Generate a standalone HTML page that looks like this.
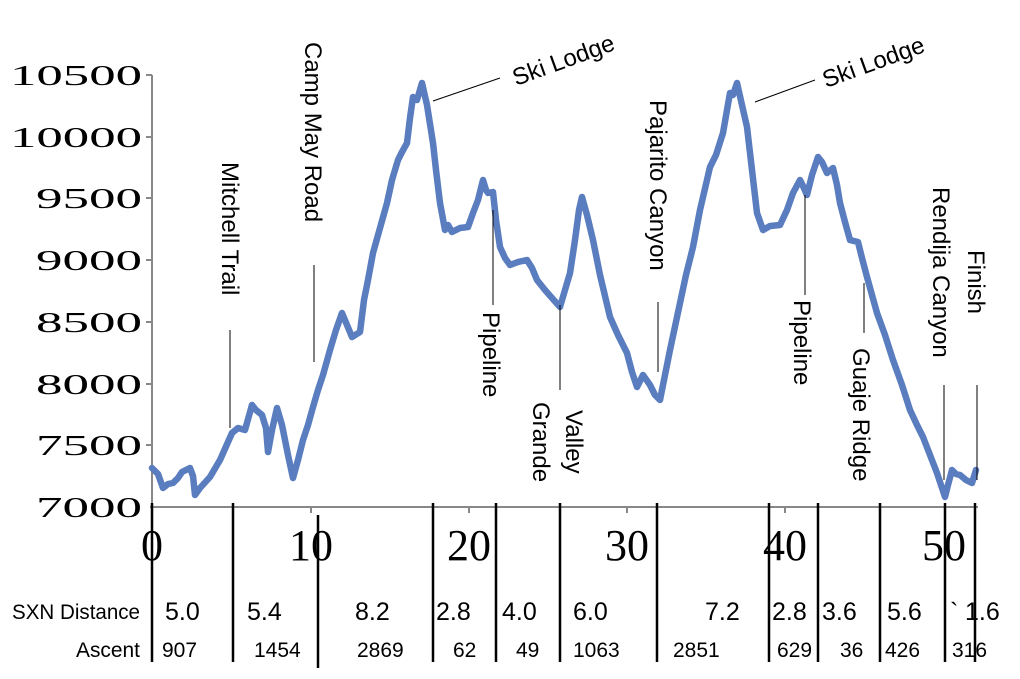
<!DOCTYPE html>
<html><head><meta charset="utf-8"><style>
html,body{margin:0;padding:0;background:#fff;}
svg{display:block;}
text{font-family:"Liberation Sans",sans-serif;fill:#000;}
.yl text{font-family:"Liberation Serif",serif;font-size:29px;}
.xl text{font-family:"Liberation Serif",serif;font-size:44px;}
.an{font-size:24px;}
.bt{font-size:21px;}
</style></head><body>
<svg width="1020" height="679" viewBox="0 0 1020 679">
<rect width="1020" height="679" fill="#fff"/>
<line x1="152" y1="75" x2="152" y2="507" stroke="#888" stroke-width="2"/>
<line x1="150" y1="507" x2="978" y2="507" stroke="#888" stroke-width="2"/>
<g stroke="#888" stroke-width="2">
<line x1="146" y1="75" x2="152" y2="75"/><line x1="146" y1="137" x2="152" y2="137"/><line x1="146" y1="198" x2="152" y2="198"/><line x1="146" y1="260" x2="152" y2="260"/><line x1="146" y1="322" x2="152" y2="322"/><line x1="146" y1="384" x2="152" y2="384"/><line x1="146" y1="445" x2="152" y2="445"/>
<line x1="311" y1="507" x2="311" y2="513"/><line x1="469" y1="507" x2="469" y2="513"/><line x1="627" y1="507" x2="627" y2="513"/><line x1="785" y1="507" x2="785" y2="513"/>
</g>
<g class="yl" text-anchor="end">
<text x="142" y="85" textLength="132" lengthAdjust="spacingAndGlyphs">10500</text>
<text x="142" y="147" textLength="132" lengthAdjust="spacingAndGlyphs">10000</text>
<text x="142" y="208" textLength="106" lengthAdjust="spacingAndGlyphs">9500</text>
<text x="142" y="270" textLength="106" lengthAdjust="spacingAndGlyphs">9000</text>
<text x="142" y="332" textLength="106" lengthAdjust="spacingAndGlyphs">8500</text>
<text x="142" y="394" textLength="106" lengthAdjust="spacingAndGlyphs">8000</text>
<text x="142" y="455" textLength="106" lengthAdjust="spacingAndGlyphs">7500</text>
<text x="142" y="517" textLength="106" lengthAdjust="spacingAndGlyphs">7000</text>
</g>
<g class="xl" text-anchor="middle">
<text x="152" y="560">0</text><text x="311" y="560">10</text><text x="469" y="560">20</text><text x="627" y="560">30</text><text x="785" y="560">40</text><text x="944" y="560">50</text>
</g>
<polyline fill="none" stroke="#5a7dbf" stroke-width="6.5" stroke-linejoin="round" stroke-linecap="round" points="152,468 158,474 163,488 168,484 173,483 178,478 182,472 186,470 190,468 193,476 195,495 200,488 210,477 220,460 228,442 232,433 238,428 245,430 252,405 256,410 262,415 266,428 268,452 272,430 277,408 282,425 288,455 293,478 298,460 303,440 308,425 313,407 318,390 323,375 330,350 336,330 342,313 347,325 352,337 360,332 364,300 368,280 373,253 380,228 387,203 392,180 398,160 402,152 407,143 410,118 413,97 417,100 422,83 427,105 433,143 436,170 440,203 445,230 448,225 452,232 460,228 468,227 473,213 478,200 483,180 486,190 488,193 493,192 496,220 500,247 505,258 510,265 518,262 527,260 532,268 537,280 545,290 552,298 560,307 565,290 570,273 575,240 579,210 582,197 587,215 593,240 600,275 610,317 618,335 627,353 632,372 637,387 643,375 650,385 655,395 660,400 670,350 680,303 686,275 693,247 700,210 710,167 716,155 723,133 727,110 730,93 733,95 737,83 742,105 747,127 752,170 757,213 763,230 770,226 780,225 787,210 793,193 800,180 803,186 807,195 812,175 818,157 822,162 827,173 833,168 837,185 840,203 845,222 850,240 858,242 862,258 867,277 872,295 877,313 885,335 893,360 902,385 910,410 917,425 923,437 930,455 937,473 941,485 945,497 948,485 952,470 956,474 960,475 966,480 972,483 976,470"/>
<g stroke="#000" stroke-width="1" fill="none">
<line x1="230" y1="330" x2="230" y2="428"/>
<line x1="314" y1="265" x2="314" y2="362"/>
<line x1="433" y1="101" x2="500" y2="78"/>
<line x1="755" y1="102" x2="815" y2="80"/>
<line x1="493" y1="210" x2="493" y2="305"/>
<line x1="560" y1="305" x2="560" y2="390"/>
<line x1="658" y1="302" x2="658" y2="372"/>
<line x1="805" y1="195" x2="805" y2="295"/>
<line x1="864" y1="283" x2="864" y2="333"/>
<line x1="944" y1="385" x2="944" y2="480"/>
<line x1="977" y1="385" x2="977" y2="480"/>
</g>
<g class="an">
<text transform="translate(222,162) rotate(90)">Mitchell Trail</text>
<text transform="translate(305,42) rotate(90)">Camp May Road</text>
<text transform="translate(516,86) rotate(-20)">Ski Lodge</text>
<text transform="translate(826,88) rotate(-20)">Ski Lodge</text>
<text transform="translate(650,100) rotate(90)">Pajarito Canyon</text>
<text transform="translate(483,312) rotate(90)">Pipeline</text>
<text transform="translate(566,410) rotate(90)">Valley</text>
<text transform="translate(533,402) rotate(90)">Grande</text>
<text transform="translate(794,300) rotate(90)">Pipeline</text>
<text transform="translate(853,348) rotate(90)">Guaje Ridge</text>
<text transform="translate(933,187) rotate(90)">Rendija Canyon</text>
<text transform="translate(968,250) rotate(90)">Finish</text>
</g>
<g stroke="#000" stroke-width="2.5">
<line x1="152" y1="503" x2="152" y2="662"/>
<line x1="233" y1="503" x2="233" y2="662"/>
<line x1="318" y1="515" x2="318" y2="668"/>
<line x1="433" y1="503" x2="433" y2="662"/>
<line x1="496" y1="503" x2="496" y2="662"/>
<line x1="560" y1="503" x2="560" y2="662"/>
<line x1="657" y1="503" x2="657" y2="662"/>
<line x1="769" y1="503" x2="769" y2="662"/>
<line x1="818" y1="503" x2="818" y2="662"/>
<line x1="880" y1="503" x2="880" y2="662"/>
<line x1="945" y1="503" x2="945" y2="662"/>
<line x1="975" y1="503" x2="975" y2="662"/>
</g>
<g class="bt">
<text x="12" y="619" textLength="128" lengthAdjust="spacingAndGlyphs">SXN Distance</text>
<text x="76" y="657" textLength="64" lengthAdjust="spacingAndGlyphs">Ascent</text>
</g>
<g style="font-size:25px">
<text x="165" y="620">5.0</text><text x="247" y="620">5.4</text><text x="355" y="620">8.2</text><text x="436" y="620">2.8</text><text x="502" y="620">4.0</text><text x="573" y="620">6.0</text><text x="705" y="620">7.2</text><text x="772" y="620">2.8</text><text x="822" y="620">3.6</text><text x="887" y="620">5.6</text><text x="950" y="620">`</text><text x="965" y="620">1.6</text>
</g>
<g style="font-size:21px">
<text x="162" y="657">907</text><text x="254" y="657">1454</text><text x="357" y="657">2869</text><text x="453" y="657">62</text><text x="516" y="657">49</text><text x="573" y="657">1063</text><text x="673" y="657">2851</text><text x="777" y="657">629</text><text x="840" y="657">36</text><text x="885" y="657">426</text><text x="952" y="657">316</text>
</g>
</svg>
</body></html>
